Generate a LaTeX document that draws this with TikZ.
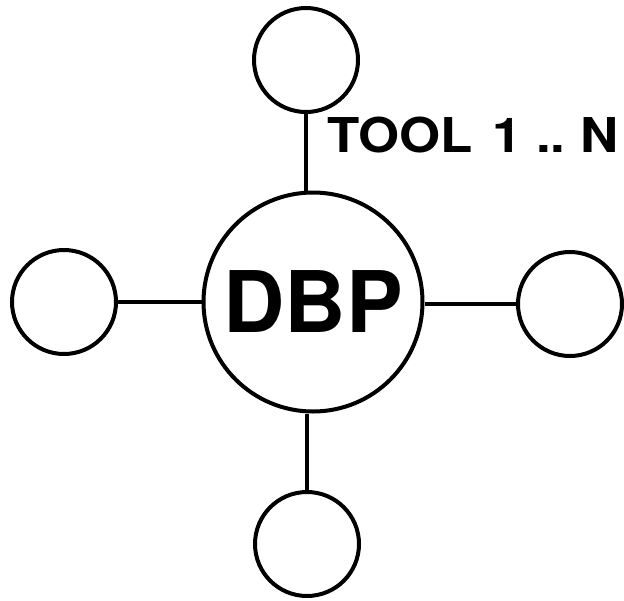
\documentclass[tikz,border=0pt]{standalone}
\usepackage{fontspec}
\setmainfont{TeX Gyre Heros}
\newfontfamily\widefont[FakeStretch=1.1]{TeX Gyre Heros}
\begin{document}
\begin{tikzpicture}[x=1pt,y=-1pt,
  tool/.style={draw, circle, line width=4pt, minimum size=104pt, inner sep=0pt},
  hub/.style={draw, circle, line width=4pt, minimum size=219pt, inner sep=0pt,
    font=\fontsize{85}{85}\selectfont\bfseries},
  link/.style={line width=4pt},
  lbl/.style={font=\widefont\fontsize{48}{48}\selectfont\bfseries, inner sep=0pt, anchor=west}]
\useasboundingbox (0,0) rectangle (624,600);
\node[hub] (c) at (313,302) {\raisebox{-5pt}{DBP}};
\node[tool] (t) at (306,60) {};
\node[tool] (l) at (64,302) {};
\node[tool] (r) at (570,304) {};
\node[tool] (b) at (307,544) {};
\draw[link] (t.south) -- (t.south |- c.north);
\draw[link] (b.north) -- (b.north |- c.south);
\draw[link] (l.east) -- (l.east -| c.west);
\draw[link] (r.west) -- (r.west -| c.east);
\node[lbl] (txt) at (327,135) {TOOL\hspace{20pt}1\hspace{14pt}..\hspace{15pt}N};
\end{tikzpicture}
\end{document}
